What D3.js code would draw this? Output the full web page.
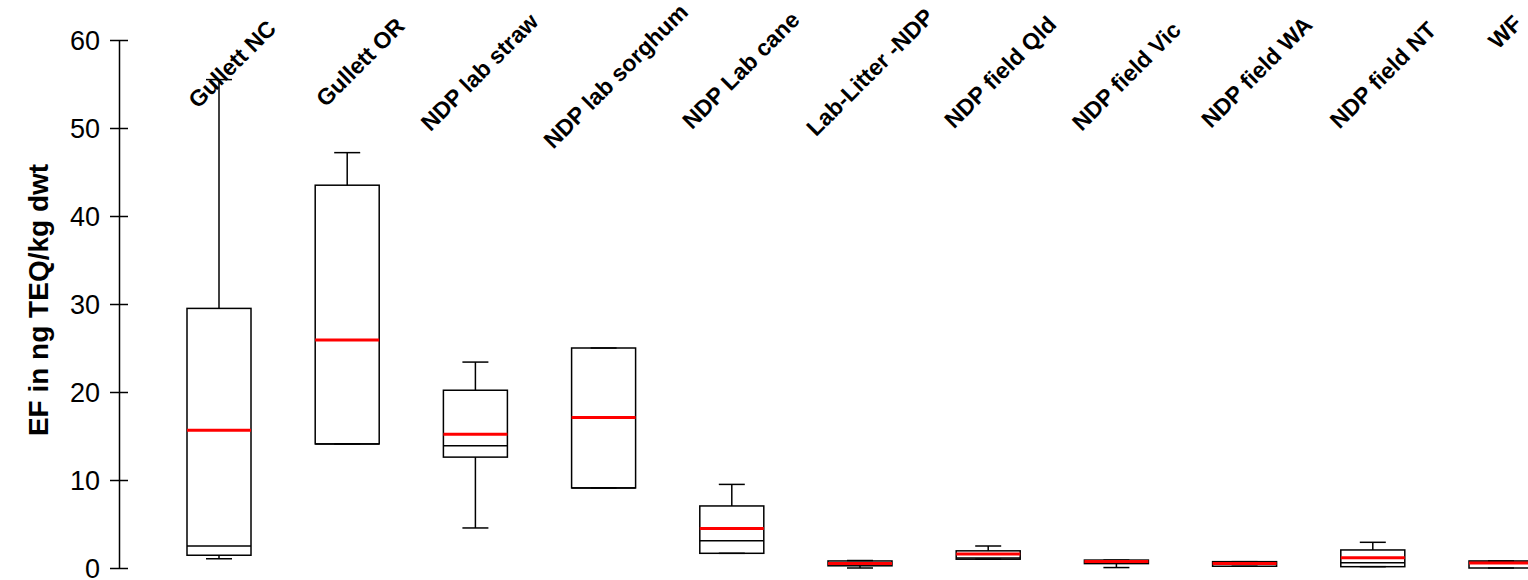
<!DOCTYPE html>
<html>
<head>
<meta charset="utf-8">
<script src="https://cdn.jsdelivr.net/npm/d3@7/dist/d3.min.js"></script>
<style>
  html, body { margin: 0; padding: 0; background: #fff; }
  svg { display: block; }
</style>
</head>
<body>
<svg id="chart" width="1528" height="580"></svg>
<script>
// ---- data ----
const categories = ["Gullett NC", "Gullett OR", "NDP lab straw", "NDP lab sorghum", "NDP Lab cane",
  "Lab-Litter -NDP", "NDP field Qld", "NDP field Vic", "NDP field WA", "NDP field NT", "WF"];
const whiskerLow  = [1.05, 14.1, 4.55, 9.1, 1.67, 0.0, 1.0, 0.05, 0.2, 0.15, 0.0];
const q1          = [1.45, 14.1, 12.6, 9.1, 1.67, 0.25, 1.0, 0.5, 0.2, 0.15, 0.0];
const median      = [2.5, 14.1, 13.9, 9.1, 3.1, 0.55, 1.15, 0.8, 0.65, 0.6, 0.65];
const mean        = [15.65, 25.9, 15.2, 17.1, 4.5, 0.5, 1.6, 0.75, 0.5, 1.17, 0.57];
const q3          = [29.5, 43.5, 20.2, 25.0, 7.05, 0.8, 1.95, 0.9, 0.72, 2.05, 0.8];
const whiskerHigh = [55.5, 47.2, 23.4, 25.0, 9.5, 0.85, 2.5, 0.9, 0.72, 2.92, 0.8];
const yTicks = [0, 10, 20, 30, 40, 50, 60];
const yTitle = "EF in ng TEQ/kg dwt";

// ---- layout ----
const svg = d3.select("#chart");
const x = d3.scalePoint().domain(categories).range([219, 1501]);
const y = d3.scaleLinear().domain([0, 60]).range([568, 40]);
const boxW = 64, capW = 26;
const labelMidY = [64, 62, 72, 76, 70, 72, 72, 76, 72, 75, 32];
const labelDx   = [13, 13, 4, 12, 9, 10, 12, 10, 12, 10, 4];

const rows = categories.map((c, i) => ({
  c, lo: whiskerLow[i], q1: q1[i], med: median[i], mean: mean[i], q3: q3[i], hi: whiskerHigh[i], i
}));

// axis
const axis = d3.axisLeft(y).tickValues(yTicks).tickSizeOuter(0).tickSizeInner(9).tickPadding(10);
const gAxis = svg.append("g").attr("transform", "translate(119,0)").call(axis);
gAxis.select(".domain").attr("stroke", "#000").attr("stroke-width", 1.5);
gAxis.selectAll(".tick line").attr("x1", -9).attr("x2", 9).attr("stroke", "#000").attr("stroke-width", 1.5);
gAxis.selectAll(".tick text")
  .attr("font-family", "Liberation Sans, Arial, sans-serif")
  .attr("font-size", 27).attr("fill", "#000").attr("dy", "0.34em");

// y title
svg.append("text")
  .attr("transform", "translate(48,300) rotate(-90)")
  .attr("text-anchor", "middle")
  .attr("font-family", "Liberation Sans, Arial, sans-serif")
  .attr("font-weight", "bold").attr("font-size", 28)
  .text(yTitle);

// boxes
const g = svg.append("g");
const box = g.selectAll("g.box").data(rows).enter().append("g").attr("class", "box");

// whiskers
box.append("line")
  .attr("x1", d => x(d.c)).attr("x2", d => x(d.c))
  .attr("y1", d => y(d.hi)).attr("y2", d => y(d.q3))
  .attr("stroke", "#000").attr("stroke-width", 1.5);
box.append("line")
  .attr("x1", d => x(d.c)).attr("x2", d => x(d.c))
  .attr("y1", d => y(d.q1)).attr("y2", d => y(d.lo))
  .attr("stroke", "#000").attr("stroke-width", 1.5);
box.append("line")
  .attr("x1", d => x(d.c) - capW / 2).attr("x2", d => x(d.c) + capW / 2)
  .attr("y1", d => y(d.hi)).attr("y2", d => y(d.hi))
  .attr("stroke", "#000").attr("stroke-width", 1.5);
box.append("line")
  .attr("x1", d => x(d.c) - capW / 2).attr("x2", d => x(d.c) + capW / 2)
  .attr("y1", d => y(d.lo)).attr("y2", d => y(d.lo))
  .attr("stroke", "#000").attr("stroke-width", 1.5);
// box
box.append("rect")
  .attr("x", d => x(d.c) - boxW / 2).attr("width", boxW)
  .attr("y", d => y(d.q3)).attr("height", d => Math.max(0, y(d.q1) - y(d.q3)))
  .attr("fill", "none").attr("stroke", "#000").attr("stroke-width", 1.5);
// median
box.append("line")
  .attr("x1", d => x(d.c) - boxW / 2).attr("x2", d => x(d.c) + boxW / 2)
  .attr("y1", d => y(d.med)).attr("y2", d => y(d.med))
  .attr("stroke", "#000").attr("stroke-width", 1.5);
// mean
box.append("line")
  .attr("x1", d => x(d.c) - boxW / 2).attr("x2", d => x(d.c) + boxW / 2)
  .attr("y1", d => y(d.mean)).attr("y2", d => y(d.mean))
  .attr("stroke", "#ff0000").attr("stroke-width", 3);

// category labels
svg.append("g").selectAll("text").data(rows).enter().append("text")
  .attr("transform", d => `translate(${x(d.c) + labelDx[d.i]},${labelMidY[d.i]}) rotate(-45)`)
  .attr("text-anchor", "middle")
  .attr("dy", "0.35em")
  .attr("font-family", "Liberation Sans, Arial, sans-serif")
  .attr("font-weight", "bold").attr("font-size", 23)
  .text(d => d.c);
</script>
</body>
</html>
